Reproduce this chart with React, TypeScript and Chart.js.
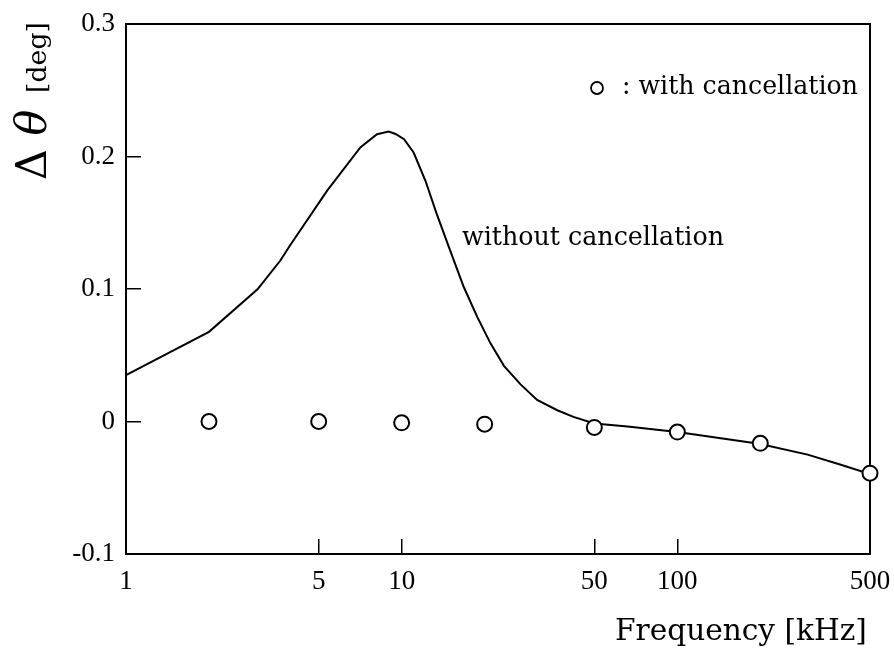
import React, { useEffect, useRef } from "react";
import { Chart, registerables } from "chart.js";

Chart.register(...registerables);

// Curve "without cancellation" (frequency kHz, Δθ deg)
const curveFreq = [1, 2, 3, 3.63, 3.94, 5.36, 7.08, 8.14, 8.97, 9.5, 10.2, 11.05, 12.2, 13.4, 15, 16.8, 18.8, 21, 23.5, 27, 31, 36.7, 42, 50, 66, 100, 198, 297, 392, 500];
const curveDelta = [0.035, 0.0677, 0.0998, 0.1215, 0.133, 0.174, 0.2068, 0.2168, 0.2188, 0.217, 0.213, 0.203, 0.1817, 0.1567, 0.129, 0.1015, 0.079, 0.059, 0.042, 0.028, 0.0163, 0.0085, 0.0035, -0.0015, -0.0038, -0.008, -0.0168, -0.025, -0.0326, -0.0396];

// Circles "with cancellation"
const circleFreq = [2, 5, 10, 20, 50, 100, 200, 500];
const circleDelta = [0, 0, -0.001, -0.002, -0.0045, -0.008, -0.0165, -0.039];

const xTicks = [1, 5, 10, 50, 100, 500];
const xTickLabels = ["1", "5", "10", "50", "100", "500"];
const yTicks = [-0.1, 0, 0.1, 0.2, 0.3];
const yTickLabels = ["-0.1", "0", "0.1", "0.2", "0.3"];

const SERIF = '"DejaVu Serif", "Liberation Serif", serif';
const DIGITS = '"Liberation Serif", "DejaVu Serif", serif';

function fitSize(ctx: CanvasRenderingContext2D, text: string, style: string, base: number, target: number) {
  ctx.font = `${style} ${base}px ${SERIF}`;
  const w = ctx.measureText(text).width;
  return (base * target) / w;
}

const decorPlugin = {
  id: "decor",
  beforeDatasetsDraw(chart: any) {
    const { ctx, chartArea } = chart;
    ctx.save();
    ctx.strokeStyle = "#000";
    ctx.lineWidth = 2;
    ctx.beginPath();
    ctx.moveTo(chartArea.left, chartArea.top);
    ctx.lineTo(chartArea.right, chartArea.top);
    ctx.lineTo(chartArea.right, chartArea.bottom);
    ctx.stroke();
    ctx.restore();
  },
  afterDraw(chart: any) {
    const { ctx } = chart;
    ctx.save();
    ctx.fillStyle = "#000";
    ctx.strokeStyle = "#000";
    ctx.textBaseline = "alphabetic";
    ctx.textAlign = "left";

    // Legend
    ctx.lineWidth = 1.8;
    ctx.beginPath();
    ctx.arc(597, 88, 6, 0, Math.PI * 2);
    ctx.stroke();
    const legText = ": with cancellation";
    const ls = fitSize(ctx, legText, "normal", 22, 236);
    ctx.font = `normal ${ls}px ${SERIF}`;
    ctx.fillText(legText, 622, 94);

    // Curve annotation
    const ann = "without cancellation";
    const as = fitSize(ctx, ann, "normal", 22, 262);
    ctx.font = `normal ${as}px ${SERIF}`;
    ctx.fillText(ann, 462, 245);

    // X title
    const xt = "Frequency [kHz]";
    const xs = fitSize(ctx, xt, "normal", 26, 252);
    ctx.font = `normal ${xs}px ${SERIF}`;
    ctx.fillText(xt, 615, 640);

    // Y title (rotated)
    const big = 40;
    const small = 25;
    const parts = [
      { t: "Δ", style: "normal", size: big },
      { t: " ", style: "normal", size: big },
      { t: "θ", style: "italic", size: big },
      { t: "  ", style: "normal", size: small },
      { t: "[deg]", style: "normal", size: small },
    ];
    let total = 0;
    for (const p of parts) {
      ctx.font = `${p.style} ${p.size}px ${SERIF}`;
      total += ctx.measureText(p.t).width;
    }
    const k = 158 / total;
    ctx.translate(46, 180);
    ctx.rotate(-Math.PI / 2);
    let x = 0;
    for (const p of parts) {
      ctx.font = `${p.style} ${p.size * k}px ${SERIF}`;
      ctx.fillText(p.t, x, 0);
      x += ctx.measureText(p.t).width;
    }
    ctx.restore();
  },
};

export default function App() {
  const ref = useRef<HTMLCanvasElement | null>(null);

  useEffect(() => {
    if (!ref.current) return;
    const chart = new Chart(ref.current, {
      type: "line",
      data: {
        datasets: [
          {
            label: "with cancellation",
            data: circleFreq.map((f, i) => ({ x: f, y: circleDelta[i] })),
            showLine: false,
            pointRadius: 7.5,
            pointBorderWidth: 2,
            pointBackgroundColor: "#fff",
            pointBorderColor: "#000",
            clip: false as any,
            order: 0,
          },
          {
            label: "without cancellation",
            data: curveFreq.map((f, i) => ({ x: f, y: curveDelta[i] })),
            borderColor: "#000",
            borderWidth: 2,
            pointRadius: 0,
            tension: 0,
            fill: false,
            order: 1,
          },
        ],
      },
      options: {
        animation: false,
        responsive: false,
        devicePixelRatio: 1,
        layout: { padding: { left: 0, top: 24, right: 24, bottom: 0 } },
        plugins: { legend: { display: false }, tooltip: { enabled: false } },
        scales: {
          x: {
            type: "logarithmic",
            min: 1,
            max: 500,
            afterBuildTicks: (scale: any) => {
              scale.ticks = xTicks.map((v) => ({ value: v }));
            },
            afterFit: (scale: any) => {
              scale.height = 96;
              scale.paddingLeft = 0;
              scale.paddingRight = 0;
            },
            border: { display: true, color: "#000", width: 2 },
            grid: { drawOnChartArea: false, drawTicks: true, tickLength: -15, color: "#000", lineWidth: 1.5 },
            ticks: {
              autoSkip: false,
              maxRotation: 0,
              padding: 27,
              color: "#000",
              font: { family: DIGITS, size: 27 },
              callback: (v: any) => {
                const i = xTicks.indexOf(Number(v));
                return i >= 0 ? xTickLabels[i] : "";
              },
            },
          },
          y: {
            type: "linear",
            min: -0.1,
            max: 0.3,
            afterBuildTicks: (scale: any) => {
              scale.ticks = yTicks.map((v) => ({ value: v }));
            },
            afterFit: (scale: any) => {
              scale.width = 126;
              scale.paddingTop = 0;
              scale.paddingBottom = 0;
            },
            border: { display: true, color: "#000", width: 2 },
            grid: { drawOnChartArea: false, drawTicks: true, tickLength: -15, color: "#000", lineWidth: 1.5 },
            ticks: {
              padding: 26,
              color: "#000",
              font: { family: DIGITS, size: 27 },
              callback: (v: any) => {
                const i = yTicks.findIndex((t) => Math.abs(t - Number(v)) < 1e-9);
                return i >= 0 ? yTickLabels[i] : "";
              },
            },
          },
        },
      },
      plugins: [decorPlugin],
    });
    return () => chart.destroy();
  }, []);

  return (
    <div style={{ position: "absolute", left: 0, top: 0, width: 894, height: 650, background: "#fff" }}>
      <canvas ref={ref} width={894} height={650} style={{ width: 894, height: 650 }} />
    </div>
  );
}
